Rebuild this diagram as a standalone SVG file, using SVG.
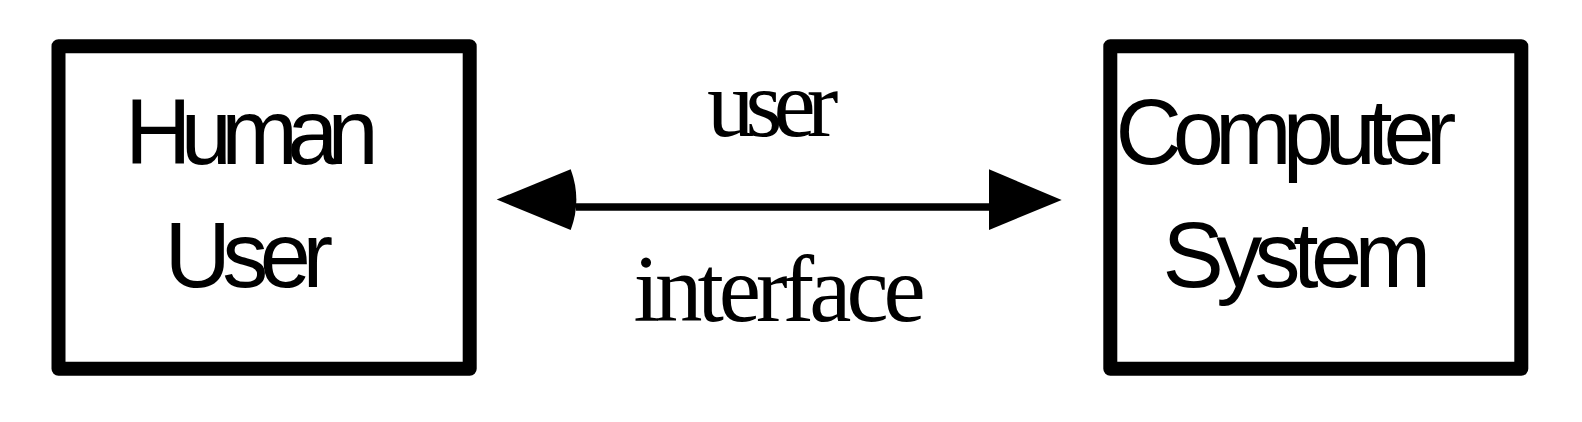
<svg xmlns="http://www.w3.org/2000/svg" width="1582" height="422" viewBox="0 0 1582 422">
<style>
.box{fill:#fff;stroke:#000;stroke-width:14;stroke-linejoin:round}
.sans{font-family:"Liberation Sans",Arial,sans-serif;font-size:92px;fill:#000}
.serif{font-family:"Liberation Serif","Times New Roman",serif;font-size:95px;fill:#000}
.line{stroke:#000;stroke-width:7.5;fill:none}
.head{fill:#000;stroke:none}
</style>
<rect width="1582" height="422" fill="#fff"/>
<g id="human-user">
<rect class="box" x="58.5" y="46.3" width="411.2" height="322.4"/>
<text class="sans" x="125" y="164.3" letter-spacing="-10.7">Human</text>
<text class="sans" x="164.4" y="286.7" letter-spacing="-8.5">User</text>
</g>
<g id="computer-system">
<rect class="box" x="1110.3" y="46.3" width="411" height="322.4"/>
<text class="sans" x="1115.4" y="164.3" letter-spacing="-9">Computer</text>
<text class="sans" x="1162.4" y="286.7" letter-spacing="-7.6">System</text>
</g>
<g id="connectors">
<line class="line" x1="576" y1="207" x2="990" y2="207"/>
<path class="head" d="M496.7,199.5 L570.7,169.3 Q582,200 570.7,230 Z"/>
<path class="head" d="M989,169.3 L1061.7,200 L989,230 Z"/>
<text class="serif" x="707" y="135.7" letter-spacing="-9">user</text>
<text class="serif" x="633.5" y="320.7" letter-spacing="-5">interface</text>
</g>
</svg>
